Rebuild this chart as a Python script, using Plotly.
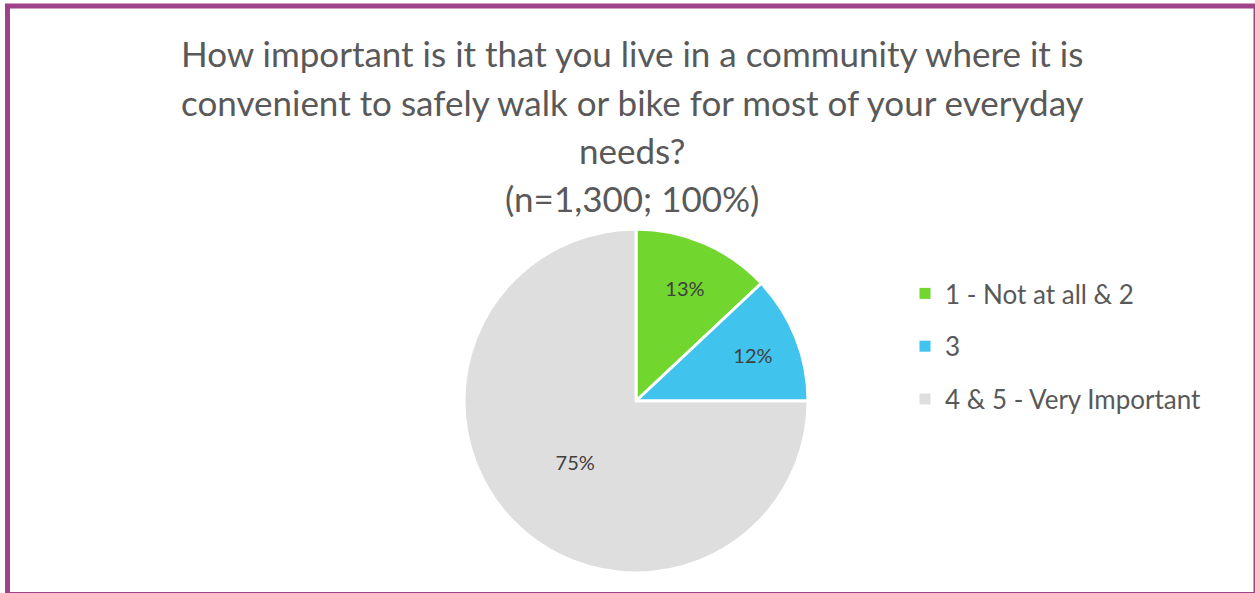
import plotly.graph_objects as go

categories = ["1 - Not at all & 2", "3", "4 & 5 - Very Important"]
values = [13, 12, 75]
colors = ["#71D62E", "#40C3EC", "#DEDEDE"]
title_lines = [
    "How important is it that you live in a community where it is",
    "convenient to safely walk or bike for most of your everyday",
    "needs?",
    "(n=1,300; 100%)",
]

W, H = 1255, 593
fig = go.Figure()

fig.add_trace(go.Pie(
    labels=categories, values=values, sort=False, direction="clockwise",
    rotation=0,
    marker=dict(colors=colors, line=dict(color="white", width=3)),
    texttemplate="%{percent:.0%}", textposition="inside",
    insidetextorientation="horizontal",
    textfont=dict(family="Lato", size=20, color="#404040"),
    domain=dict(x=[464 / W, 808 / W], y=[1 - 573 / H, 1 - 229 / H]),
    showlegend=False, hoverinfo="label+percent",
))

for i, (cat, col) in enumerate(zip(categories, colors)):
    fig.add_trace(go.Scatter(
        x=[None], y=[None], mode="markers", name=cat,
        marker=dict(symbol="square", size=11, color=col),
        legendgroup=f"g{i}", showlegend=True,
    ))

title_y = [53, 102, 150, 198]
for line, yy in zip(title_lines, title_y):
    fig.add_annotation(
        text=line, x=632 / W, y=1 - yy / H, xref="paper", yref="paper",
        showarrow=False, xanchor="center", yanchor="middle",
        font=dict(family="Lato", size=35, color="#595959"),
    )

fig.add_shape(type="rect", xref="paper", yref="paper",
              x0=7.5 / W, x1=1256 / W, y0=1 - 594.5 / H, y1=1 - 6 / H,
              line=dict(color="#A0428A", width=5))

fig.update_layout(
    width=W, height=H,
    margin=dict(l=0, r=0, t=0, b=0),
    paper_bgcolor="white", plot_bgcolor="white",
    xaxis=dict(visible=False), yaxis=dict(visible=False),
    legend=dict(x=905 / W, y=1 - 270 / H, xanchor="left", yanchor="top",
                traceorder="grouped", tracegroupgap=16,
                font=dict(family="Lato", size=26, color="#595959"),
                bgcolor="rgba(0,0,0,0)"),
)

fig.write_html("out.html", config={"displayModeBar": False},
               post_script="document.body.style.margin='0px';")
